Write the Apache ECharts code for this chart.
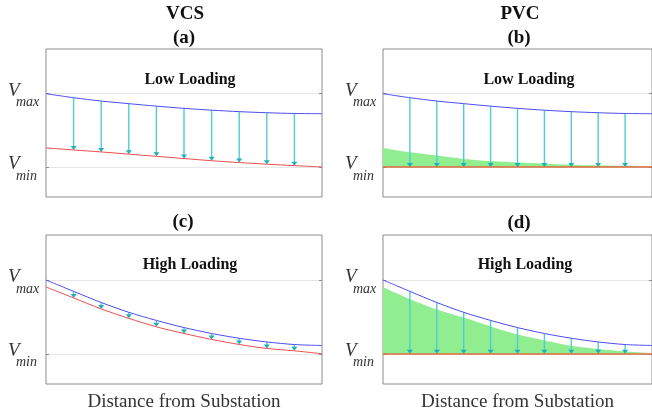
<!DOCTYPE html>
<html>
<head>
<meta charset="utf-8">
<script src="https://cdn.jsdelivr.net/npm/echarts@6/dist/echarts.min.js"></script>
<style>
html, body { margin: 0; padding: 0; background: #fff; }
#main { width: 652px; height: 418px; }
</style>
</head>
<body>
<div id="main"></div>
<script>
// distance steps along the feeder, arrows drawn at the inner points
var xs = [0, 1, 2, 3, 4, 5, 6, 7, 8, 9, 10];
var arrowAt = [1, 2, 3, 4, 5, 6, 7, 8, 9];
// voltage in units where Vmin = 0 and Vmax = 1
var blueLow = [1.0, 0.945, 0.90, 0.864, 0.83, 0.80, 0.775, 0.755, 0.74, 0.73, 0.727];
var redLow = [0.26, 0.232, 0.205, 0.175, 0.145, 0.115, 0.085, 0.06, 0.038, 0.018, 0.0];
var greenLow = [0.26, 0.2, 0.155, 0.11, 0.08, 0.06, 0.045, 0.03, 0.02, 0.015, 0.01];
var blueHigh = [1.0, 0.846, 0.695, 0.562, 0.452, 0.355, 0.275, 0.21, 0.16, 0.125, 0.112];
var redHigh = [0.905, 0.757, 0.608, 0.48, 0.365, 0.275, 0.194, 0.126, 0.072, 0.04, 0.0];
var greenHigh = [0.9, 0.74, 0.6, 0.49, 0.37, 0.26, 0.18, 0.108, 0.063, 0.03, 0.01];
var yTicks = [0, 1];
var yNames = { 0: 'min', 1: 'max' };

var serif = 'Liberation Serif';
var myChart = echarts.init(document.getElementById('main'));

var panels = [
    { blue: blueLow, red: redLow, green: null },
    { blue: blueLow, red: null, green: greenLow },
    { blue: blueHigh, red: redHigh, green: null },
    { blue: blueHigh, red: null, green: greenHigh }
];

function toPairs(arr) {
    return xs.map(function (x, i) { return [x, arr[i]]; });
}

function renderArrow(params, api) {
    var top = api.coord([api.value(0), api.value(1)]);
    var bot = api.coord([api.value(0), api.value(2)]);
    var w = 3, h = 4;
    return {
        type: 'group',
        children: [
            {
                type: 'line',
                shape: { x1: top[0], y1: top[1], x2: bot[0], y2: bot[1] - h + 1 },
                style: { stroke: '#4fcdd3', lineWidth: 1.4 }
            },
            {
                type: 'polygon',
                shape: { points: [[bot[0] - w, bot[1] - h], [bot[0] + w, bot[1] - h], [bot[0], bot[1]]] },
                style: { fill: '#1fb0b6' }
            }
        ]
    };
}

var grids = [
    { left: 46, top: 49, width: 276, height: 148 },
    { left: 383, top: 49, width: 275, height: 148 },
    { left: 46, top: 235, width: 276, height: 149 },
    { left: 383, top: 235, width: 275, height: 149 }
];

var xAxes = [], yAxes = [], series = [];
grids.forEach(function (g, i) {
    g.show = true;
    g.borderColor = '#8c8c8c';
    g.borderWidth = 1;
    xAxes.push({
        gridIndex: i, type: 'value', min: 0, max: 10,
        axisLine: { show: false }, axisTick: { show: false },
        axisLabel: { show: false }, splitLine: { show: false },
        name: i >= 2 ? 'Distance from Substation' : '',
        nameLocation: 'middle', nameGap: 9,
        nameTextStyle: { fontFamily: serif, fontSize: 19, color: '#333' }
    });
});
grids.forEach(function (g, i) {
    yAxes.push({
        gridIndex: i, type: 'value', min: -0.41, max: 1.61,
        axisLine: { show: false },
        axisTick: { show: true, inside: true, length: 3, customValues: yTicks, lineStyle: { color: '#8c8c8c' } },
        axisLabel: {
            customValues: yTicks, align: 'left', margin: 38, padding: [8, 0, 0, 0],
            formatter: function (v) { return '{v|V}\n{s|' + yNames[v] + '}'; },
            rich: {
                v: { fontFamily: serif, fontStyle: 'italic', fontSize: 19, color: '#333', lineHeight: 10 },
                s: { fontFamily: serif, fontStyle: 'italic', fontSize: 14, color: '#333', lineHeight: 14, padding: [0, 0, 0, 8] }
            }
        },
        splitLine: { show: true, lineStyle: { color: '#e6e6e6', width: 1 } }
    });
});
grids.forEach(function (g, i) {
    yAxes.push({
        gridIndex: i, type: 'value', min: -0.41, max: 1.61, position: 'right',
        axisLine: { show: false },
        axisTick: { show: true, inside: true, length: 3, customValues: yTicks, lineStyle: { color: '#8c8c8c' } },
        axisLabel: { show: false }, splitLine: { show: false }
    });
});

panels.forEach(function (p, i) {
    var bottom = p.red;
    if (p.green) {
        series.push({
            type: 'line', xAxisIndex: i, yAxisIndex: i, z: 1,
            data: toPairs(p.green), showSymbol: false, smooth: 0.3,
            lineStyle: { width: 0 },
            areaStyle: { color: '#90ee90', opacity: 1 },
            markLine: {
                silent: true, symbol: 'none', label: { show: false },
                lineStyle: { color: '#dc6a3c', width: 1.5, type: 'solid' },
                data: [{ yAxis: 0 }]
            }
        });
    }
    series.push({
        type: 'custom', xAxisIndex: i, yAxisIndex: i, z: 3,
        renderItem: renderArrow,
        encode: { x: 0, y: [1, 2] },
        data: arrowAt.map(function (x) {
            return [x, p.blue[x], bottom ? bottom[x] : 0];
        })
    });
    series.push({
        type: 'line', xAxisIndex: i, yAxisIndex: i, z: 4,
        data: toPairs(p.blue), showSymbol: false, smooth: 0.3,
        lineStyle: { color: '#4b4bf2', width: 1 }
    });
    if (p.red) {
        series.push({
            type: 'line', xAxisIndex: i, yAxisIndex: i, z: 4,
            data: toPairs(p.red), showSymbol: false, smooth: 0.3,
            lineStyle: { color: '#e84d4d', width: 1 }
        });
    }
});

function label(text, x, y, size) {
    return {
        type: 'text', x: x, y: y,
        style: {
            text: text, align: 'center', verticalAlign: 'middle',
            font: 'bold ' + size + 'px "Liberation Serif"', fill: '#111'
        }
    };
}

var option = {
    animation: false,
    grid: grids,
    xAxis: xAxes,
    yAxis: yAxes,
    series: series,
    graphic: [
        label('VCS', 185, 14, 19),
        label('(a)', 184, 38, 19),
        label('PVC', 520, 14, 19),
        label('(b)', 519, 38, 19),
        label('(c)', 183, 222, 19),
        label('(d)', 519, 223, 19),
        label('Low Loading', 190, 80, 16),
        label('Low Loading', 529, 80, 16),
        label('High Loading', 190, 265, 16),
        label('High Loading', 525, 265, 16)
    ]
};
myChart.setOption(option);
</script>
</body>
</html>
